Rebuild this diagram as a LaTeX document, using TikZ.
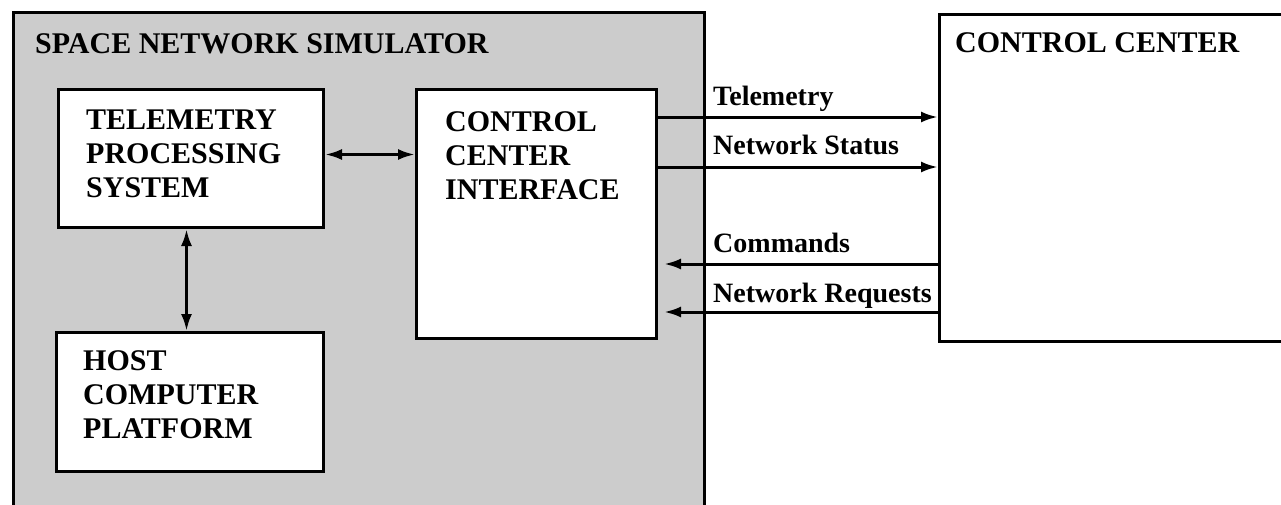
\documentclass[tikz,border=0pt]{standalone}
\usepackage{fontspec}
\setmainfont{Liberation Serif}
\usetikzlibrary{arrows.meta}
\begin{document}
\begin{tikzpicture}[x=1pt,y=-1pt,
  box/.style={draw, line width=3pt, fill=white, inner sep=0pt, anchor=north west},
  txt/.style={font=\fontsize{30}{34}\selectfont\bfseries, align=left, inner sep=0pt, anchor=north west},
  lab/.style={font=\fontsize{28}{32}\selectfont\bfseries, inner sep=0pt, anchor=base west},
  arr/.style={line width=3pt, -{Latex[length=17pt,width=11pt]}},
  dbl/.style={line width=3pt, {Latex[length=17pt,width=11pt]}-{Latex[length=17pt,width=11pt]}}]
\useasboundingbox (0,0) rectangle (1281,504);
\clip (0,0) rectangle (1281,504);
% outer simulator box
\node[box, fill=black!20, minimum width=691pt, minimum height=500pt] (sim) at (12,11) {};
\node[txt] (simtitle) at (35,33) {SPACE NETWORK SIMULATOR};
% inner boxes
\node[box, minimum width=265pt, minimum height=138pt] (tps) at (57,88) {};
\node[txt] (tpstext) at (86,110) {TELEMETRY\\PROCESSING\\SYSTEM};
\node[box, minimum width=240pt, minimum height=249pt] (cci) at (415,88) {};
\node[txt] (ccitext) at (445,111) {CONTROL\\CENTER\\INTERFACE};
\node[box, minimum width=267pt, minimum height=139pt] (host) at (55,331) {};
\node[txt] (hosttext) at (83,350) {HOST\\COMPUTER\\PLATFORM};
% control center
\node[box, minimum width=360pt, minimum height=327pt] (cc) at (938,13) {};
\node[txt] (cctext) at (955,32) {CONTROL CENTER};
% internal connectors
\draw[dbl] ([yshift=4pt]tps.east) coordinate (d1) -- (d1 -| cci.west);
\draw[dbl] ([xshift=-4.5pt]tps.south) coordinate (d2) -- (d2 |- host.north);
% external connectors
\draw[arr] ([yshift=-29pt]cci.north east) coordinate (t1) -- (t1 -| cc.west);
\draw[arr] ([yshift=-79pt]cci.north east) coordinate (t2) -- (t2 -| cc.west);
\draw[arr] (cc.west |- 0,264) coordinate (t3) -- ([xshift=6pt]t3 -| cci.east);
\draw[arr] (cc.west |- 0,312) coordinate (t4) -- ([xshift=6pt]t4 -| cci.east);
% labels
\node[lab] (ltel) at (713,105) {Telemetry};
\node[lab] (lns) at (713,154) {Network Status};
\node[lab] (lcmd) at (713,252) {Commands};
\node[lab] (lnr) at (713,302) {Network Requests};
\end{tikzpicture}
\end{document}
